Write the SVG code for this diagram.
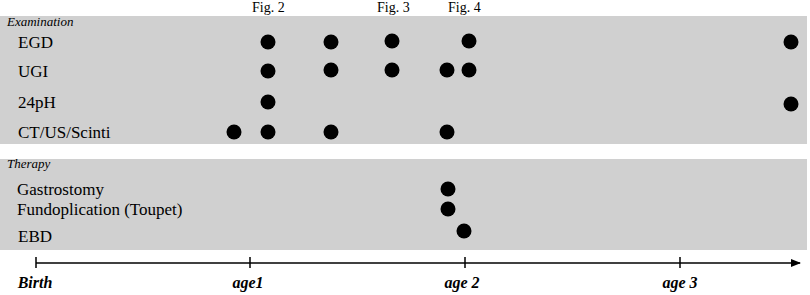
<svg xmlns="http://www.w3.org/2000/svg" width="810" height="295" viewBox="0 0 810 295">
<defs>
<style>
.panel{fill:#d0d0d0}
.dot{fill:#000}
text{font-family:'Liberation Serif','Times New Roman','DejaVu Serif',serif;fill:#000}
.lbl{font-size:17px}
.sec{font-size:13px;font-style:italic}
.fig{font-size:14px}
.ax{font-size:16px;font-style:italic;font-weight:bold;text-anchor:middle}
.axis{stroke:#000;stroke-width:1.5;fill:none}
</style>
<marker id="arr" markerWidth="10" markerHeight="8" refX="9" refY="4" orient="auto" markerUnits="userSpaceOnUse">
<path d="M0,0 L10,4 L0,8 z" fill="#000"/>
</marker>
</defs>
<rect width="810" height="295" fill="#fff"/>
<g id="examination">
<rect class="panel" x="0" y="16" width="807" height="128"/>
<text class="sec" x="7" y="26">Examination</text>
<text class="lbl" x="18" y="48">EGD</text>
<text class="lbl" x="18" y="77">UGI</text>
<text class="lbl" x="18" y="108">24pH</text>
<text class="lbl" x="18" y="138">CT/US/Scinti</text>
</g>
<g id="figlabels">
<text class="fig" x="252" y="12">Fig. 2</text>
<text class="fig" x="377" y="12">Fig. 3</text>
<text class="fig" x="448" y="12">Fig. 4</text>
</g>
<g id="exam-dots">
<circle class="dot" cx="268" cy="42" r="7.5"/>
<circle class="dot" cx="331" cy="42" r="7.5"/>
<circle class="dot" cx="392" cy="41" r="7.5"/>
<circle class="dot" cx="469" cy="41" r="7.5"/>
<circle class="dot" cx="791" cy="42" r="7.5"/>
<circle class="dot" cx="268" cy="71" r="7.5"/>
<circle class="dot" cx="331" cy="70" r="7.5"/>
<circle class="dot" cx="392" cy="70" r="7.5"/>
<circle class="dot" cx="447" cy="70" r="7.5"/>
<circle class="dot" cx="469" cy="70" r="7.5"/>
<circle class="dot" cx="268" cy="102" r="7.5"/>
<circle class="dot" cx="791" cy="104" r="7.5"/>
<circle class="dot" cx="234" cy="132" r="7.5"/>
<circle class="dot" cx="268" cy="132" r="7.5"/>
<circle class="dot" cx="331" cy="132" r="7.5"/>
<circle class="dot" cx="447" cy="132" r="7.5"/>
</g>
<g id="therapy">
<rect class="panel" x="0" y="159" width="807" height="91"/>
<text class="sec" x="7" y="168">Therapy</text>
<text class="lbl" x="17" y="195">Gastrostomy</text>
<text class="lbl" x="17" y="215">Fundoplication (Toupet)</text>
<text class="lbl" x="18" y="242">EBD</text>
</g>
<g id="therapy-dots">
<circle class="dot" cx="448" cy="189" r="7.5"/>
<circle class="dot" cx="448" cy="209" r="7.5"/>
<circle class="dot" cx="464" cy="231" r="7.5"/>
</g>
<g id="connectors">
<line class="axis" x1="36" y1="263" x2="800" y2="263" marker-end="url(#arr)"/>
<line class="axis" x1="36" y1="257" x2="36" y2="268"/>
<line class="axis" x1="250" y1="257" x2="250" y2="268"/>
<line class="axis" x1="465" y1="257" x2="465" y2="268"/>
<line class="axis" x1="680" y1="257" x2="680" y2="268"/>
</g>
<g id="axis-labels">
<text class="ax" x="35" y="288">Birth</text>
<text class="ax" x="248" y="288">age1</text>
<text class="ax" x="462" y="288">age 2</text>
<text class="ax" x="680" y="288">age 3</text>
</g>
</svg>
